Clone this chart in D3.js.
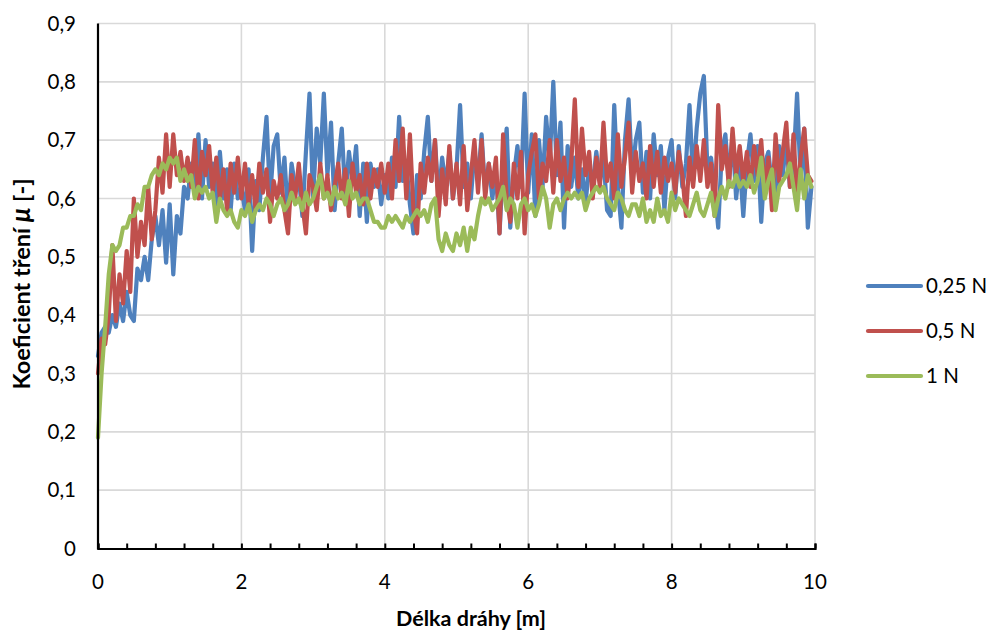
<!DOCTYPE html>
<html><head><meta charset="utf-8">
<script src="https://cdn.jsdelivr.net/npm/d3@7"></script>
<style>
html,body{margin:0;padding:0;background:#fff;}
svg{display:block;font-family:Lato,"Open Sans",sans-serif;}
</style></head>
<body>
<svg id="chart" width="992" height="632"></svg>
<script>
// ---- data ----
const seriesNames = ["0,25 N", "0,5 N", "1 N"];
const seriesColors = ["#4F81BD", "#C0504D", "#9BBB59"];
const sampleStep = 0.05; // m between samples, starting at 0
const mu025 = [
0.33,0.37,0.38,0.37,0.40,0.38,0.42,0.39,0.44,0.40,
0.39,0.48,0.46,0.50,0.46,0.53,0.57,0.52,0.58,0.49,
0.59,0.47,0.57,0.54,0.62,0.60,0.66,0.61,0.71,0.60,
0.70,0.62,0.66,0.59,0.68,0.60,0.65,0.58,0.66,0.60,
0.62,0.58,0.65,0.51,0.63,0.58,0.67,0.74,0.60,0.69,
0.71,0.61,0.67,0.57,0.66,0.62,0.64,0.57,0.68,0.78,
0.60,0.72,0.66,0.78,0.64,0.73,0.58,0.66,0.72,0.60,
0.68,0.63,0.69,0.57,0.66,0.56,0.66,0.62,0.65,0.59,
0.64,0.60,0.67,0.62,0.74,0.63,0.66,0.59,0.54,0.64,
0.60,0.68,0.74,0.63,0.70,0.60,0.67,0.62,0.68,0.60,
0.65,0.76,0.62,0.66,0.60,0.68,0.63,0.71,0.61,0.66,
0.60,0.65,0.54,0.66,0.72,0.55,0.64,0.69,0.62,0.78,
0.61,0.71,0.57,0.70,0.62,0.74,0.66,0.80,0.64,0.73,
0.55,0.69,0.62,0.67,0.60,0.65,0.59,0.66,0.62,0.68,
0.63,0.67,0.58,0.57,0.76,0.62,0.55,0.70,0.77,0.64,
0.70,0.73,0.61,0.68,0.60,0.71,0.64,0.69,0.58,0.67,
0.70,0.60,0.69,0.62,0.66,0.76,0.63,0.72,0.78,0.81,
0.65,0.67,0.62,0.55,0.68,0.71,0.63,0.71,0.60,0.66,
0.57,0.66,0.71,0.63,0.69,0.56,0.66,0.68,0.62,0.59,
0.69,0.64,0.70,0.62,0.66,0.78,0.63,0.72,0.55,0.62
];
const mu05 = [
0.30,0.36,0.35,0.40,0.52,0.39,0.47,0.42,0.51,0.44,
0.60,0.50,0.56,0.52,0.62,0.53,0.58,0.67,0.61,0.71,
0.62,0.71,0.64,0.68,0.63,0.67,0.62,0.70,0.60,0.68,
0.64,0.69,0.61,0.67,0.60,0.65,0.58,0.66,0.61,0.67,
0.60,0.66,0.59,0.64,0.58,0.66,0.61,0.65,0.56,0.63,
0.60,0.64,0.58,0.54,0.64,0.60,0.66,0.59,0.54,0.64,
0.62,0.58,0.66,0.60,0.64,0.58,0.62,0.66,0.60,0.65,
0.57,0.66,0.61,0.64,0.59,0.66,0.60,0.65,0.62,0.66,
0.61,0.66,0.60,0.70,0.63,0.72,0.60,0.71,0.58,0.54,
0.66,0.61,0.67,0.63,0.70,0.57,0.65,0.59,0.69,0.60,
0.66,0.59,0.69,0.58,0.64,0.70,0.61,0.70,0.60,0.66,
0.62,0.67,0.54,0.71,0.60,0.56,0.66,0.60,0.68,0.54,
0.64,0.68,0.71,0.60,0.66,0.63,0.70,0.61,0.70,0.63,
0.67,0.60,0.66,0.77,0.62,0.72,0.64,0.68,0.60,0.67,
0.62,0.73,0.63,0.66,0.60,0.71,0.62,0.67,0.73,0.61,
0.68,0.63,0.66,0.60,0.69,0.62,0.68,0.61,0.67,0.63,
0.66,0.61,0.68,0.64,0.57,0.67,0.62,0.69,0.63,0.70,
0.62,0.66,0.57,0.76,0.65,0.69,0.62,0.72,0.64,0.69,
0.63,0.68,0.62,0.69,0.64,0.70,0.61,0.67,0.58,0.71,
0.63,0.68,0.73,0.62,0.71,0.60,0.67,0.72,0.64,0.63
];
const mu1 = [
0.19,0.30,0.38,0.47,0.52,0.51,0.52,0.55,0.55,0.57,
0.57,0.59,0.58,0.62,0.62,0.64,0.65,0.64,0.66,0.65,
0.67,0.66,0.67,0.63,0.65,0.63,0.64,0.60,0.62,0.61,
0.62,0.60,0.61,0.56,0.60,0.58,0.57,0.58,0.56,0.55,
0.58,0.57,0.59,0.56,0.58,0.59,0.58,0.60,0.59,0.57,
0.59,0.60,0.58,0.59,0.61,0.59,0.60,0.58,0.61,0.59,
0.60,0.62,0.64,0.60,0.61,0.59,0.62,0.60,0.61,0.59,
0.63,0.60,0.61,0.59,0.60,0.60,0.58,0.56,0.56,0.55,
0.55,0.57,0.56,0.57,0.56,0.55,0.57,0.56,0.57,0.58,
0.57,0.58,0.56,0.59,0.60,0.53,0.51,0.54,0.52,0.51,
0.54,0.52,0.55,0.51,0.55,0.53,0.57,0.60,0.59,0.60,
0.58,0.59,0.60,0.62,0.58,0.60,0.59,0.55,0.59,0.60,
0.58,0.59,0.57,0.59,0.62,0.60,0.55,0.59,0.60,0.58,
0.60,0.61,0.60,0.61,0.60,0.61,0.58,0.60,0.61,0.62,
0.61,0.62,0.60,0.59,0.58,0.61,0.60,0.58,0.57,0.59,
0.59,0.57,0.60,0.56,0.58,0.56,0.60,0.57,0.58,0.56,
0.61,0.58,0.60,0.59,0.58,0.57,0.59,0.61,0.58,0.57,
0.59,0.61,0.57,0.60,0.62,0.60,0.63,0.62,0.64,0.62,
0.63,0.62,0.64,0.61,0.63,0.67,0.60,0.63,0.65,0.58,
0.62,0.63,0.64,0.66,0.62,0.58,0.65,0.60,0.64,0.62
];
const xTickLabels = [0, 2, 4, 6, 8, 10];
const yTickValues = [0, 0.1, 0.2, 0.3, 0.4, 0.5, 0.6, 0.7, 0.8, 0.9];
const xTitle = "Délka dráhy [m]";
const yTitleMain = "Koeficient tření ";
const yTitleSym = "μ";
const yTitleEnd = " [-]";

// ---- layout ----
const svg = d3.select("#chart");
const L = 98, R = 815, T = 23.5, B = 548.5;
const x = d3.scaleLinear().domain([0, 10]).range([L, R]);
const y = d3.scaleLinear().domain([0, 0.9]).range([B, T]);
const fmt = v => d3.format(".1f")(v).replace(".", ",").replace(/^0,0$/, "0");

// gridlines
const grid = svg.append("g");
grid.selectAll("line.h").data(yTickValues.filter(v => v > 0)).enter().append("line")
  .attr("x1", L).attr("x2", R).attr("y1", d => y(d)).attr("y2", d => y(d))
  .attr("stroke", "#d9d9d9").attr("stroke-width", 1.6);
grid.selectAll("line.v").data(xTickLabels.filter(v => v > 0)).enter().append("line")
  .attr("y1", T).attr("y2", B).attr("x1", d => x(d)).attr("x2", d => x(d))
  .attr("stroke", "#d9d9d9").attr("stroke-width", 1.6);

// series
const allSeries = [mu025, mu05, mu1];
const line = d3.line().x((d, i) => x(i * sampleStep)).y(d => y(d));
allSeries.forEach((s, k) => {
  svg.append("path").datum(s).attr("d", line)
    .attr("fill", "none").attr("stroke", seriesColors[k])
    .attr("stroke-width", 4.2).attr("stroke-linejoin", "round").attr("stroke-linecap", "round");
});

// axes
const xAxis = d3.axisBottom(x).tickValues(d3.range(0, 10.01, 0.4)).tickSize(-5).tickFormat("");
const gx = svg.append("g").attr("transform", `translate(0,${B})`).call(xAxis);
gx.select(".domain").attr("stroke", "#000").attr("stroke-width", 2.2);
gx.selectAll(".tick line").attr("stroke", "#000").attr("stroke-width", 2);
svg.append("g").selectAll("text").data(xTickLabels).enter().append("text")
  .attr("x", d => x(d)).attr("y", 589).attr("text-anchor", "middle")
  .attr("font-size", 20.5).attr("fill", "#000").text(d => d);

svg.append("line").attr("x1", L).attr("x2", L).attr("y1", T).attr("y2", B + 1)
  .attr("stroke", "#000").attr("stroke-width", 2.2);
svg.append("g").selectAll("text").data(yTickValues).enter().append("text")
  .attr("x", 76).attr("y", d => y(d) + 7).attr("text-anchor", "end")
  .attr("font-size", 20.5).attr("fill", "#000").text(d => fmt(d));

// titles
svg.append("text").attr("x", 471).attr("y", 626).attr("text-anchor", "middle")
  .attr("font-size", 21.5).attr("font-weight", "bold").attr("fill", "#000").text(xTitle);
const yt = svg.append("text").attr("transform", `translate(30,284) rotate(-90)`)
  .attr("text-anchor", "middle").attr("font-size", 23.5).attr("font-weight", "bold").attr("fill", "#000");
yt.append("tspan").text(yTitleMain);
yt.append("tspan").attr("font-style", "italic").attr("font-size", 26).text(yTitleSym);
yt.append("tspan").text(yTitleEnd);

// legend
const lg = svg.append("g");
seriesNames.forEach((n, k) => {
  const ly = 286 + k * 45;
  lg.append("line").attr("x1", 868).attr("x2", 921).attr("y1", ly).attr("y2", ly)
    .attr("stroke", seriesColors[k]).attr("stroke-width", 4.2).attr("stroke-linecap", "round");
  lg.append("text").attr("x", 926).attr("y", ly + 7).attr("font-size", 20.5).attr("fill", "#000").text(n);
});
</script>
</body></html>
